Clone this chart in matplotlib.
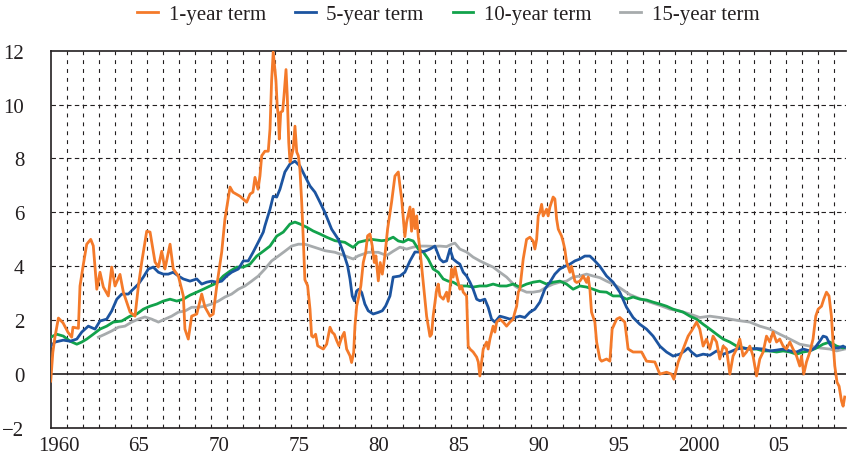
import matplotlib
matplotlib.use("Agg")
import matplotlib.pyplot as plt
from matplotlib.ticker import FixedLocator

plt.rcParams['font.family'] = ['Liberation Serif', 'DejaVu Serif']

# 1-year term
yr1 = [1960.00, 1960.13, 1960.27, 1960.48, 1960.77, 1961.08, 1961.31, 1961.39, 1961.73, 1961.83,
       1962.02, 1962.25, 1962.50, 1962.66, 1962.88, 1963.08, 1963.29, 1963.60, 1963.81, 1964.02,
       1964.33, 1964.54, 1964.75, 1964.96, 1965.27, 1965.48, 1965.69, 1966.00, 1966.21, 1966.52,
       1966.73, 1966.94, 1967.14, 1967.46, 1967.66, 1967.98, 1968.29, 1968.39, 1968.60, 1968.81,
       1969.13, 1969.44, 1969.64, 1969.96, 1970.16, 1970.38, 1970.69, 1970.89, 1971.21, 1971.39,
       1971.83, 1972.25, 1972.46, 1972.64, 1972.77, 1972.96, 1973.08, 1973.19, 1973.39, 1973.60,
       1973.71, 1973.81, 1973.91, 1974.08, 1974.16, 1974.23, 1974.29, 1974.38, 1974.50, 1974.58,
       1974.71, 1974.79, 1974.88, 1974.96, 1975.06, 1975.16, 1975.27, 1975.38, 1975.48, 1975.58,
       1975.69, 1975.79, 1975.89, 1976.06, 1976.21, 1976.31, 1976.41, 1976.56, 1976.69, 1976.83,
       1977.04, 1977.25, 1977.35, 1977.46, 1977.60, 1977.73, 1977.88, 1978.02, 1978.19, 1978.35,
       1978.50, 1978.71, 1978.81, 1978.94, 1979.02, 1979.13, 1979.27, 1979.39, 1979.54, 1979.69,
       1979.81, 1979.96, 1980.10, 1980.23, 1980.33, 1980.48, 1980.60, 1980.73, 1980.89, 1981.06,
       1981.31, 1981.52, 1981.73, 1981.83, 1981.94, 1982.14, 1982.25, 1982.46, 1982.56, 1982.66,
       1982.77, 1982.88, 1982.98, 1983.08, 1983.29, 1983.50, 1983.71, 1983.81, 1983.91, 1984.13,
       1984.23, 1984.33, 1984.54, 1984.75, 1984.85, 1984.96, 1985.06, 1985.16, 1985.27, 1985.38,
       1985.58, 1985.69, 1985.79, 1986.00, 1986.10, 1986.21, 1986.41, 1986.63, 1986.73, 1986.83,
       1986.94, 1987.04, 1987.25, 1987.35, 1987.46, 1987.66, 1987.77, 1987.88, 1988.08, 1988.29,
       1988.50, 1988.71, 1988.91, 1989.02, 1989.13, 1989.23, 1989.33, 1989.54, 1989.75, 1989.96,
       1990.16, 1990.27, 1990.38, 1990.48, 1990.58, 1990.69, 1990.79, 1991.00, 1991.10, 1991.21,
       1991.31, 1991.41, 1991.52, 1991.63, 1991.73, 1991.94, 1992.04, 1992.14, 1992.25, 1992.46,
       1992.56, 1992.77, 1992.88, 1993.08, 1993.29, 1993.50, 1993.60, 1993.71, 1993.81, 1994.02,
       1994.13, 1994.33, 1994.44, 1994.75, 1994.96, 1995.10, 1995.38, 1995.58, 1995.89, 1996.10,
       1996.41, 1996.94, 1997.25, 1997.77, 1998.08, 1998.50, 1998.81, 1998.96, 1999.23, 1999.54,
       1999.85, 2000.06, 2000.38, 2000.58, 2000.79, 2001.00, 2001.21, 2001.41, 2001.63, 2001.83,
       2002.04, 2002.25, 2002.46, 2002.66, 2002.88, 2003.08, 2003.29, 2003.50, 2003.71, 2003.91,
       2004.13, 2004.33, 2004.54, 2004.75, 2004.96, 2005.16, 2005.38, 2005.58, 2005.79, 2006.00,
       2006.21, 2006.41, 2006.63, 2006.83, 2006.94, 2007.08, 2007.25, 2007.46, 2007.66, 2007.83,
       2007.98, 2008.19, 2008.33, 2008.50, 2008.66, 2008.81, 2008.91, 2009.02, 2009.16, 2009.29,
       2009.44, 2009.54, 2009.64]
term1 = [-0.26, 0.8, 1.4, 2.08, 1.9, 1.55, 1.37, 1.74, 1.7, 3.27,
         4.0, 4.82, 5.0, 4.76, 3.15, 3.78, 3.23, 2.9, 3.97, 3.27,
         3.7, 3.04, 2.67, 2.3, 2.15, 3.27, 4.16, 5.3, 5.27, 4.16,
         3.97, 4.56, 3.9, 4.82, 3.9, 3.64, 2.9, 1.67, 1.3, 2.15,
         2.23, 2.97, 2.49, 2.15, 2.23, 3.27, 4.53, 5.75, 6.94, 6.75,
         6.6, 6.38, 6.68, 6.75, 7.3, 6.86, 7.35, 8.1, 8.27, 8.27,
         9.1, 10.9, 11.95, 10.9, 9.94, 9.57, 8.72, 9.72, 9.76, 10.3,
         11.3, 10.3, 8.6, 7.87, 8.1, 8.35, 9.2, 8.24, 8.1, 7.6,
         6.38, 5.0, 3.5, 3.28, 2.41, 1.42, 1.37, 1.48, 1.05, 1.0,
         0.93, 1.11, 1.42, 1.74, 1.55, 1.48, 1.24, 1.05, 1.36, 1.55,
         0.93, 0.68, 0.43, 0.8, 1.79, 2.53, 2.9, 3.28, 4.14, 4.52,
         5.13, 5.2, 4.76, 4.14, 4.39, 3.46, 4.14, 3.71, 4.39, 5.38,
         6.38, 7.35, 7.5, 7.0, 6.5, 5.1, 5.64, 6.2, 5.3, 6.12,
         5.4, 5.87, 5.1, 4.64, 3.4, 2.15, 1.4, 1.48, 2.15, 3.15,
         3.34, 2.9, 2.78, 3.04, 2.7, 3.15, 3.9, 3.6, 3.97, 3.64,
         3.15, 3.27, 3.04, 2.9, 1.04, 0.93, 0.82, 0.63, 0.45, -0.07,
         0.45, 0.93, 1.19, 0.93, 1.3, 1.78, 1.56, 1.93, 2.04, 1.93,
         1.78, 1.93, 2.04, 2.3, 2.52, 3.04, 3.15, 4.27, 5.0, 5.08,
         4.94, 4.64, 5.0, 5.87, 6.0, 6.3, 5.87, 6.12, 5.87, 6.2,
         6.38, 6.57, 6.5, 5.75, 5.38, 5.12, 4.9, 4.64, 4.16, 3.78,
         4.0, 3.45, 3.4, 3.45, 3.64, 3.4, 3.6, 3.15, 2.3, 1.93,
         1.19, 0.56, 0.48, 0.56, 0.48, 1.67, 2.04, 2.1, 1.93, 0.93,
         0.82, 0.82, 0.48, 0.45, 0.0, 0.07, 0.0, -0.19, 0.45, 0.93,
         1.41, 1.6, 1.93, 1.67, 1.04, 1.3, 0.93, 1.41, 1.19, 0.56,
         1.04, 0.93, 0.0, 0.67, 0.93, 1.3, 0.67, 0.82, 1.04, 0.67,
         -0.07, 0.56, 0.82, 1.41, 1.19, 1.56, 1.19, 1.3, 1.04, 0.93,
         1.19, 0.93, 0.67, 0.3, 0.67, 0.0, 0.45, 0.82, 1.3, 2.15,
         2.41, 2.52, 2.78, 3.04, 2.9, 2.15, 1.19, 0.3, -0.3, -0.45,
         -1.0, -1.19, -0.85]

# 5-year term
yr5 = [1960.00, 1960.27, 1960.79, 1961.21, 1961.63, 1961.94, 1962.35, 1962.77, 1963.08, 1963.50,
       1963.81, 1964.13, 1964.44, 1964.85, 1965.16, 1965.48, 1965.79, 1966.10, 1966.41, 1966.73,
       1967.04, 1967.35, 1967.66, 1967.98, 1968.29, 1968.71, 1969.13, 1969.44, 1969.75, 1970.06,
       1970.38, 1970.69, 1971.00, 1971.31, 1971.73, 1972.04, 1972.35, 1972.66, 1972.98, 1973.29,
       1973.39, 1973.71, 1973.91, 1974.13, 1974.33, 1974.64, 1974.96, 1975.27, 1975.58, 1975.89,
       1976.21, 1976.52, 1976.83, 1977.14, 1977.56, 1977.98, 1978.29, 1978.56, 1978.71, 1978.85,
       1978.98, 1979.13, 1979.27, 1979.44, 1979.64, 1979.85, 1980.16, 1980.48, 1980.73, 1980.94,
       1981.21, 1981.41, 1981.83, 1982.14, 1982.46, 1982.77, 1983.08, 1983.39, 1983.71, 1984.02,
       1984.33, 1984.54, 1984.75, 1984.96, 1985.16, 1985.38, 1985.58, 1985.79, 1986.00, 1986.21,
       1986.41, 1986.63, 1986.83, 1987.14, 1987.35, 1987.56, 1987.77, 1988.08, 1988.39, 1988.71,
       1989.02, 1989.33, 1989.64, 1989.96, 1990.27, 1990.58, 1990.89, 1991.21, 1991.52, 1991.83,
       1992.14, 1992.46, 1992.77, 1993.08, 1993.39, 1993.71, 1994.02, 1994.33, 1994.75, 1995.16,
       1995.58, 1996.00, 1996.41, 1996.83, 1997.25, 1997.66, 1998.08, 1998.50, 1998.91, 1999.33,
       1999.64, 1999.85, 2000.06, 2000.38, 2000.79, 2001.21, 2001.63, 2002.04, 2002.46, 2002.88,
       2003.29, 2003.71, 2004.13, 2004.54, 2004.96, 2005.38, 2005.79, 2006.21, 2006.63, 2007.04,
       2007.46, 2007.77, 2008.08, 2008.29, 2008.50, 2008.71, 2008.91, 2009.23, 2009.54, 2009.64]
term5 = [1.04, 1.19, 1.26, 1.22, 1.3, 1.56, 1.78, 1.67, 1.97, 2.04,
         2.34, 2.78, 2.97, 2.97, 3.15, 3.34, 3.6, 3.9, 3.97, 3.78,
         3.71, 3.71, 3.78, 3.64, 3.53, 3.45, 3.53, 3.34, 3.41, 3.45,
         3.41, 3.45, 3.64, 3.78, 3.9, 4.2, 4.2, 4.53, 4.9, 5.27,
         5.5, 6.12, 6.6, 6.57, 6.86, 7.5, 7.8, 7.9, 7.72, 7.35,
         6.98, 6.75, 6.38, 6.0, 5.38, 5.0, 4.52, 4.02, 3.53, 2.9,
         2.72, 3.09, 3.15, 3.03, 2.6, 2.35, 2.23, 2.29, 2.35, 2.53,
         2.9, 3.6, 3.64, 3.78, 4.2, 4.53, 4.53, 4.56, 4.64, 4.75,
         4.27, 4.16, 4.2, 4.64, 4.27, 4.16, 4.08, 3.78, 3.64, 3.41,
         3.15, 2.78, 2.72, 2.78, 2.48, 2.04, 1.93, 2.15, 2.1, 2.04,
         2.1, 2.15, 2.1, 2.3, 2.41, 2.67, 3.15, 3.41, 3.71, 3.9,
         4.0, 4.08, 4.2, 4.27, 4.38, 4.38, 4.2, 4.0, 3.64, 3.41,
         3.04, 2.48, 2.1, 1.85, 1.67, 1.41, 1.04, 0.82, 0.67, 0.74,
         0.86, 0.97, 0.82, 0.67, 0.74, 0.7, 0.86, 0.74, 0.82, 0.93,
         0.97, 0.93, 0.95, 0.93, 0.86, 0.89, 0.93, 0.86, 0.82, 0.93,
         0.86, 0.97, 1.22, 1.41, 1.37, 1.11, 0.97, 0.97, 1.04, 1.0]

# 10-year term
yr10 = [1960.00, 1960.38, 1960.79, 1961.21, 1961.63, 1961.94, 1962.25, 1962.66, 1963.08, 1963.50,
        1963.91, 1964.44, 1964.96, 1965.38, 1965.79, 1966.21, 1966.63, 1967.04, 1967.46, 1967.88,
        1968.29, 1968.71, 1969.13, 1969.54, 1969.96, 1970.38, 1970.79, 1971.21, 1971.63, 1972.04,
        1972.46, 1972.88, 1973.29, 1973.71, 1974.13, 1974.54, 1974.96, 1975.27, 1975.58, 1976.00,
        1976.41, 1976.83, 1977.25, 1977.77, 1978.39, 1978.91, 1979.23, 1979.64, 1980.06, 1980.69,
        1981.00, 1981.41, 1981.73, 1982.04, 1982.35, 1982.66, 1982.98, 1983.29, 1983.60, 1983.91,
        1984.23, 1984.54, 1984.85, 1985.16, 1985.58, 1986.00, 1986.41, 1986.83, 1987.25, 1987.66,
        1988.08, 1988.50, 1988.91, 1989.33, 1989.75, 1990.16, 1990.58, 1991.00, 1991.41, 1991.83,
        1992.25, 1992.66, 1993.08, 1993.50, 1993.91, 1994.33, 1994.75, 1995.16, 1995.58, 1996.00,
        1996.41, 1996.83, 1997.25, 1997.66, 1998.08, 1998.50, 1998.91, 1999.54, 1999.96, 2000.38,
        2000.79, 2001.21, 2001.63, 2002.04, 2002.46, 2002.88, 2003.29, 2003.71, 2004.13, 2004.54,
        2004.96, 2005.38, 2005.79, 2006.21, 2006.63, 2007.04, 2007.46, 2007.88, 2008.29, 2008.71,
        2009.13, 2009.54, 2009.64]
term10 = [1.37, 1.48, 1.41, 1.22, 1.11, 1.19, 1.3, 1.48, 1.67, 1.78,
          1.93, 1.97, 2.15, 2.23, 2.41, 2.52, 2.6, 2.71, 2.78, 2.71,
          2.78, 2.93, 3.04, 3.15, 3.27, 3.38, 3.64, 3.82, 3.97, 3.97,
          4.08, 4.38, 4.56, 4.75, 5.12, 5.27, 5.57, 5.64, 5.57, 5.45,
          5.31, 5.2, 5.08, 4.95, 4.89, 4.7, 4.89, 4.95, 5.0, 4.95,
          4.97, 5.08, 4.94, 4.9, 5.0, 4.94, 4.64, 4.53, 4.27, 3.9,
          3.78, 3.53, 3.45, 3.41, 3.27, 3.27, 3.23, 3.27, 3.27, 3.34,
          3.27, 3.27, 3.34, 3.23, 3.34, 3.41, 3.45, 3.34, 3.41, 3.45,
          3.34, 3.15, 3.27, 3.23, 3.15, 3.06, 3.04, 2.9, 2.9, 2.78,
          2.86, 2.78, 2.75, 2.67, 2.6, 2.52, 2.41, 2.3, 2.15, 2.04,
          1.85, 1.67, 1.48, 1.3, 1.19, 1.04, 0.97, 0.93, 0.93, 0.86,
          0.86, 0.82, 0.86, 0.82, 0.74, 0.82, 0.86, 0.97, 1.11, 1.19,
          1.04, 0.97, 0.99]

# 15-year term
yr15 = [1962.98, 1963.39, 1963.81, 1964.23, 1964.64, 1965.06, 1965.48, 1965.89, 1966.31, 1966.73,
        1967.14, 1967.56, 1967.98, 1968.39, 1968.81, 1969.23, 1969.64, 1970.06, 1970.48, 1970.89,
        1971.31, 1971.73, 1972.14, 1972.56, 1972.98, 1973.39, 1973.81, 1974.23, 1974.64, 1975.06,
        1975.48, 1975.89, 1976.52, 1977.14, 1977.77, 1978.39, 1978.91, 1979.23, 1979.85, 1980.48,
        1981.00, 1981.41, 1981.83, 1982.25, 1982.66, 1983.08, 1983.50, 1983.91, 1984.33, 1984.75,
        1985.06, 1985.27, 1985.58, 1986.00, 1986.41, 1986.83, 1987.25, 1987.66, 1988.08, 1988.50,
        1988.81, 1989.02, 1989.33, 1989.75, 1990.16, 1990.58, 1991.00, 1991.41, 1991.83, 1992.25,
        1992.66, 1993.08, 1993.50, 1993.91, 1994.33, 1994.75, 1995.16, 1995.58, 1996.21, 1996.83,
        1997.46, 1998.08, 1998.71, 1999.33, 1999.96, 2000.58, 2001.21, 2001.83, 2002.46, 2003.08,
        2003.71, 2004.33, 2004.96, 2005.58, 2006.21, 2006.83, 2007.46, 2008.08, 2008.71, 2009.13,
        2009.64]
term15 = [1.37, 1.48, 1.6, 1.74, 1.78, 1.93, 2.04, 2.12, 2.04, 1.93,
          2.04, 2.15, 2.3, 2.34, 2.48, 2.48, 2.52, 2.6, 2.71, 2.86,
          2.97, 3.15, 3.27, 3.45, 3.64, 3.9, 4.2, 4.38, 4.56, 4.75,
          4.82, 4.82, 4.7, 4.58, 4.52, 4.39, 4.27, 4.39, 4.52, 4.52,
          4.4, 4.56, 4.71, 4.64, 4.71, 4.75, 4.75, 4.74, 4.75, 4.73,
          4.82, 4.86, 4.64, 4.53, 4.34, 4.2, 4.08, 3.97, 3.78, 3.6,
          3.41, 3.27, 3.15, 3.04, 3.04, 3.08, 3.23, 3.34, 3.41, 3.45,
          3.6, 3.64, 3.71, 3.64, 3.58, 3.45, 3.34, 3.2, 2.95, 2.8,
          2.67, 2.55, 2.41, 2.34, 2.23, 2.1, 2.15, 2.1, 2.04, 1.98,
          1.93, 1.78, 1.67, 1.48, 1.3, 1.11, 1.04, 0.97, 0.93, 0.86,
          0.93]

label_years = [1960, 1965, 1970, 1975, 1980, 1985, 1990, 1995, 2000, 2005]
label_text = ['1960', '65', '70', '75', '80', '85', '90', '95', '2000', '05']
y_ticks = [-2, 0, 2, 4, 6, 8, 10, 12]

ink = '#231F20'
fig = plt.figure(figsize=(8.47, 4.64), dpi=100)
ax = fig.add_axes([0.0599, 0.0754, 0.9389, 0.8132])

ax.plot(yr15, term15, color='#A7ABAD', lw=2.0, label='15-year term', zorder=3)
ax.plot(yr10, term10, color='#12A24B', lw=2.0, label='10-year term', zorder=4)
ax.plot(yr5, term5, color='#1C54A0', lw=2.0, label='5-year term', zorder=5)
ax.plot(yr1, term1, color='#F47A2A', lw=2.0, label='1-year term', zorder=6)

ax.set_xlim(1960, 2009.72)
ax.set_ylim(-2, 12)

# labels sit mid-year, dashed grid on year boundaries
ax.set_xticks([y + 0.5 for y in label_years])
ax.set_xticklabels(label_text)
ax.xaxis.set_minor_locator(FixedLocator(list(range(1961, 2010))))
ax.set_yticks(y_ticks)
ax.set_yticklabels([str(v).replace('-', '\u2212') for v in y_ticks])
ax.tick_params(axis='both', which='both', length=0, labelsize=15, colors=ink)
ax.tick_params(axis='y', pad=19)
ax.tick_params(axis='x', pad=6)

ax.grid(True, axis='x', which='minor', linestyle=(0, (3.5, 4.5)), color=ink, lw=0.8)
ax.grid(False, axis='x', which='major')
for v in [2, 4, 6, 8, 10]:
    ax.axhline(v, linestyle=(0, (4, 3)), color=ink, lw=0.8, zorder=1)
ax.axhline(0, color=ink, lw=1.2, zorder=2)

for side in ['left', 'bottom', 'top']:
    ax.spines[side].set_color(ink)
    ax.spines[side].set_linewidth(1.2)
ax.spines['right'].set_visible(False)

handles, labels = ax.get_legend_handles_labels()
order = [3, 2, 1, 0]
leg = ax.legend([handles[i] for i in order], [labels[i] for i in order],
                loc='center', bbox_to_anchor=(0.5, 1.097), ncol=4, frameon=False,
                fontsize=15, handlelength=1.0, handletextpad=0.5, columnspacing=1.4)
for t in leg.get_texts():
    t.set_color(ink)

fig.savefig('out.png', dpi=100)
